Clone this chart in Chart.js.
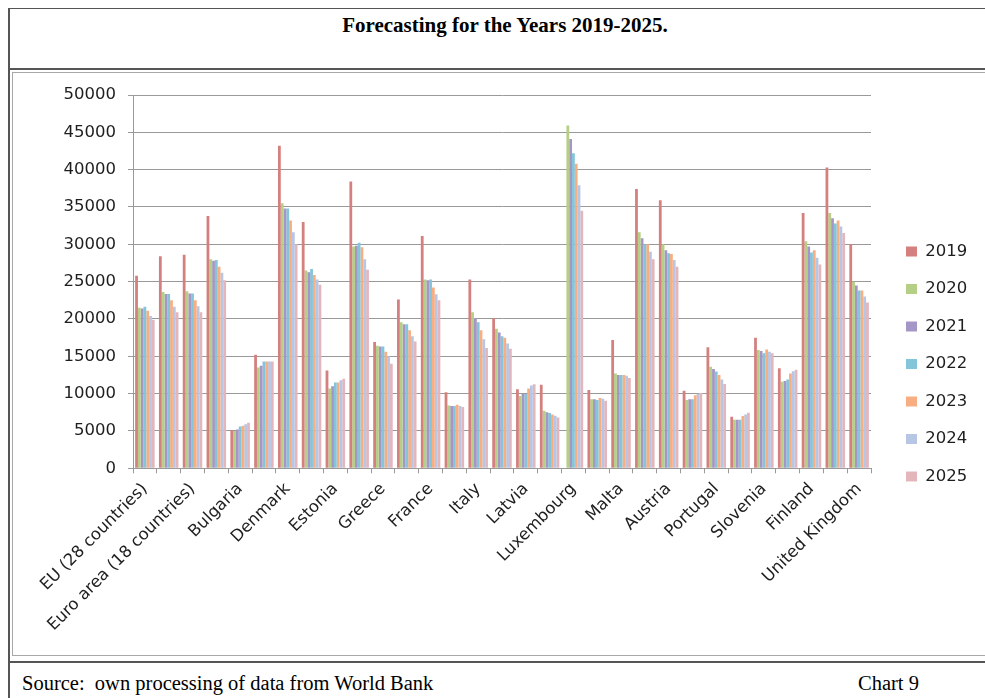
<!DOCTYPE html>
<html>
<head>
<meta charset="utf-8">
<script src="https://cdn.jsdelivr.net/npm/chart.js@4.4.1/dist/chart.umd.min.js"></script>
<style>
  body { margin: 0; background: #fff; width: 985px; height: 698px; overflow: hidden; position: relative; }
  .frame { position: absolute; left: 8px; top: 8px; width: 1000px; height: 720px; border-left: 2px solid #555; border-top: 1px solid #555; }
  .title { position: absolute; left: 0; width: 1010px; top: 13px; text-align: center; font: bold 21px "Liberation Serif", serif; color: #000; }
  .rule { position: absolute; left: 8px; width: 990px; height: 2px; background: #555; }
  .box { position: absolute; left: 12px; top: 72px; width: 990px; height: 582px; border: 1px solid #a8a8a8; }
  .wrap { position: absolute; left: 12px; top: 72px; width: 973px; height: 583px; }
  .foot { position: absolute; top: 672px; font: 20.5px "Liberation Serif", serif; color: #000; white-space: pre; }
</style>
</head>
<body>
<div class="frame"></div>
<div class="title">Forecasting for the Years 2019-2025.</div>
<div class="rule" style="top:68px"></div>
<div class="box"></div>
<div class="wrap"><canvas id="canvas-bar" width="973" height="583"></canvas></div>
<div class="rule" style="top:661px"></div>
<div class="foot" style="left:22px">Source:  own processing of data from World Bank</div>
<div class="foot" style="left:858px">Chart 9</div>

<script>
// categories (only every other one is labelled on the axis)
const countries = ['EU (28 countries)', 'Euro area (19 countries)', 'Euro area (18 countries)', 'Belgium', 'Bulgaria',
  'Czech Republic', 'Denmark', 'Germany', 'Estonia', 'Ireland', 'Greece', 'Spain', 'France', 'Croatia', 'Italy',
  'Cyprus', 'Latvia', 'Lithuania', 'Luxembourg', 'Hungary', 'Malta', 'Netherlands', 'Austria', 'Poland',
  'Portugal', 'Romania', 'Slovenia', 'Slovakia', 'Finland', 'Sweden', 'United Kingdom'];

const years = ['2019', '2020', '2021', '2022', '2023', '2024', '2025'];

const y2019 = [25800, 28400, 28600, 33800, 5100, 15200, 43200, 33000, 13100, 38400, 16900, 22600, 31100, 10200, 25300,
  20100, 10600, 11200, null, 10500, 17200, 37400, 35900, 10400, 16200, 6900, 17500, 13400, 34200, 40300, 30000];
const y2020 = [21500, 23600, 23700, 28000, 5000, 13500, 35500, 26500, 10700, 29700, 16400, 19550, 25300, 8400, 20900,
  18700, 9700, 7700, 45900, 9250, 12700, 31600, 30000, 9150, 13600, 6500, 15850, 11600, 30400, 34200, 25000];
const y2021 = [21400, 23350, 23400, 27800, 5200, 13750, 34800, 26250, 11000, 29800, 16300, 19300, 25200, 8350, 20100,
  18200, 9950, 7500, 44100, 9250, 12500, 30800, 29200, 9250, 13300, 6500, 15700, 11700, 29700, 33500, 24500];
const y2022 = [21650, 23350, 23400, 27900, 5600, 14300, 34800, 26700, 11500, 30200, 16300, 19300, 25300, 8350, 19550,
  17700, 9950, 7400, 42200, 9150, 12500, 30000, 28800, 9250, 12950, 6500, 15400, 11900, 28900, 32800, 23800];
const y2023 = [21100, 22500, 22500, 27000, 5700, 14300, 33200, 25900, 11500, 29600, 15600, 18500, 24200, 8500, 18500,
  17500, 10700, 7200, 40800, 9400, 12500, 30000, 28700, 9800, 12500, 7000, 15900, 12700, 29200, 33200, 23800];
const y2024 = [20400, 21650, 21700, 26200, 5900, 14300, 31600, 25300, 11800, 28000, 15000, 17700, 23300, 8350, 17300,
  16700, 11100, 7050, 37900, 9300, 12400, 29000, 27900, 10000, 11900, 7200, 15600, 13000, 28200, 32400, 23000];
const y2025 = [19900, 20900, 20900, 25200, 6100, 14300, 30000, 24600, 12000, 26600, 14000, 17000, 22500, 8200, 16100,
  16000, 11250, 6800, 34500, 9050, 12100, 28000, 27000, 10100, 11300, 7450, 15400, 13200, 27300, 31500, 22200];

const yTicks = [0, 5000, 10000, 15000, 20000, 25000, 30000, 35000, 40000, 45000, 50000];

const colors = ['#d4807e', '#b5cf86', '#a496c6', '#84c5da', '#f9ae82', '#b6c6e4', '#e3b6bc'];
const series = [y2019, y2020, y2021, y2022, y2023, y2024, y2025];

const txt = '#1e1e1e';
const font = { family: 'DejaVu Sans', size: 16.5 };

// legend sits a bit further right and higher than chart.js puts it
const legendPlace = {
  id: 'legendPlace',
  beforeInit(chart) {
    const lg = chart.legend;
    const fit = lg.fit;
    lg.fit = function () { fit.call(this); this.width = 114; };
  },
  afterLayout(chart) {
    const lg = chart.legend;
    lg.left += 14; lg.right += 14;
    lg.top -= 11; lg.bottom -= 11;
  }
};

const ctx = document.getElementById('canvas-bar').getContext('2d');
const myChart = new Chart(ctx, {
  type: 'bar',
  data: {
    labels: countries,
    datasets: series.map((d, i) => ({
      label: years[i],
      data: d,
      backgroundColor: colors[i],
      borderWidth: 0,
      barPercentage: 1,
      categoryPercentage: 0.82
    }))
  },
  options: {
    responsive: false,
    animation: false,
    devicePixelRatio: 1,
    layout: { padding: { top: 23, right: 0, bottom: 0, left: 0 } },
    scales: {
      x: {
        grid: { display: true, drawOnChartArea: false, drawTicks: true, tickLength: 5, color: '#999' },
        border: { color: '#999' },
        ticks: {
          color: txt, font: font, autoSkip: false, minRotation: 45, maxRotation: 45, padding: 6,
          callback: (v, i) => (i % 2 === 0 ? countries[i] : '')
        },
        afterFit: (s) => { s.height = 186.7; }
      },
      y: {
        min: 0,
        max: 50000,
        afterBuildTicks: (s) => { s.ticks = yTicks.map(v => ({ value: v })); },
        grid: { color: '#999', tickLength: 5 },
        border: { color: '#999' },
        ticks: { color: txt, font: font, padding: 12, callback: (v) => String(v) },
        afterFit: (s) => { s.width = 121; }
      }
    },
    plugins: {
      legend: {
        position: 'right',
        labels: { color: txt, font: font, boxWidth: 11, boxHeight: 10, padding: 21 }
      },
      tooltip: { enabled: false }
    }
  },
  plugins: [legendPlace]
});
</script>
</body>
</html>
